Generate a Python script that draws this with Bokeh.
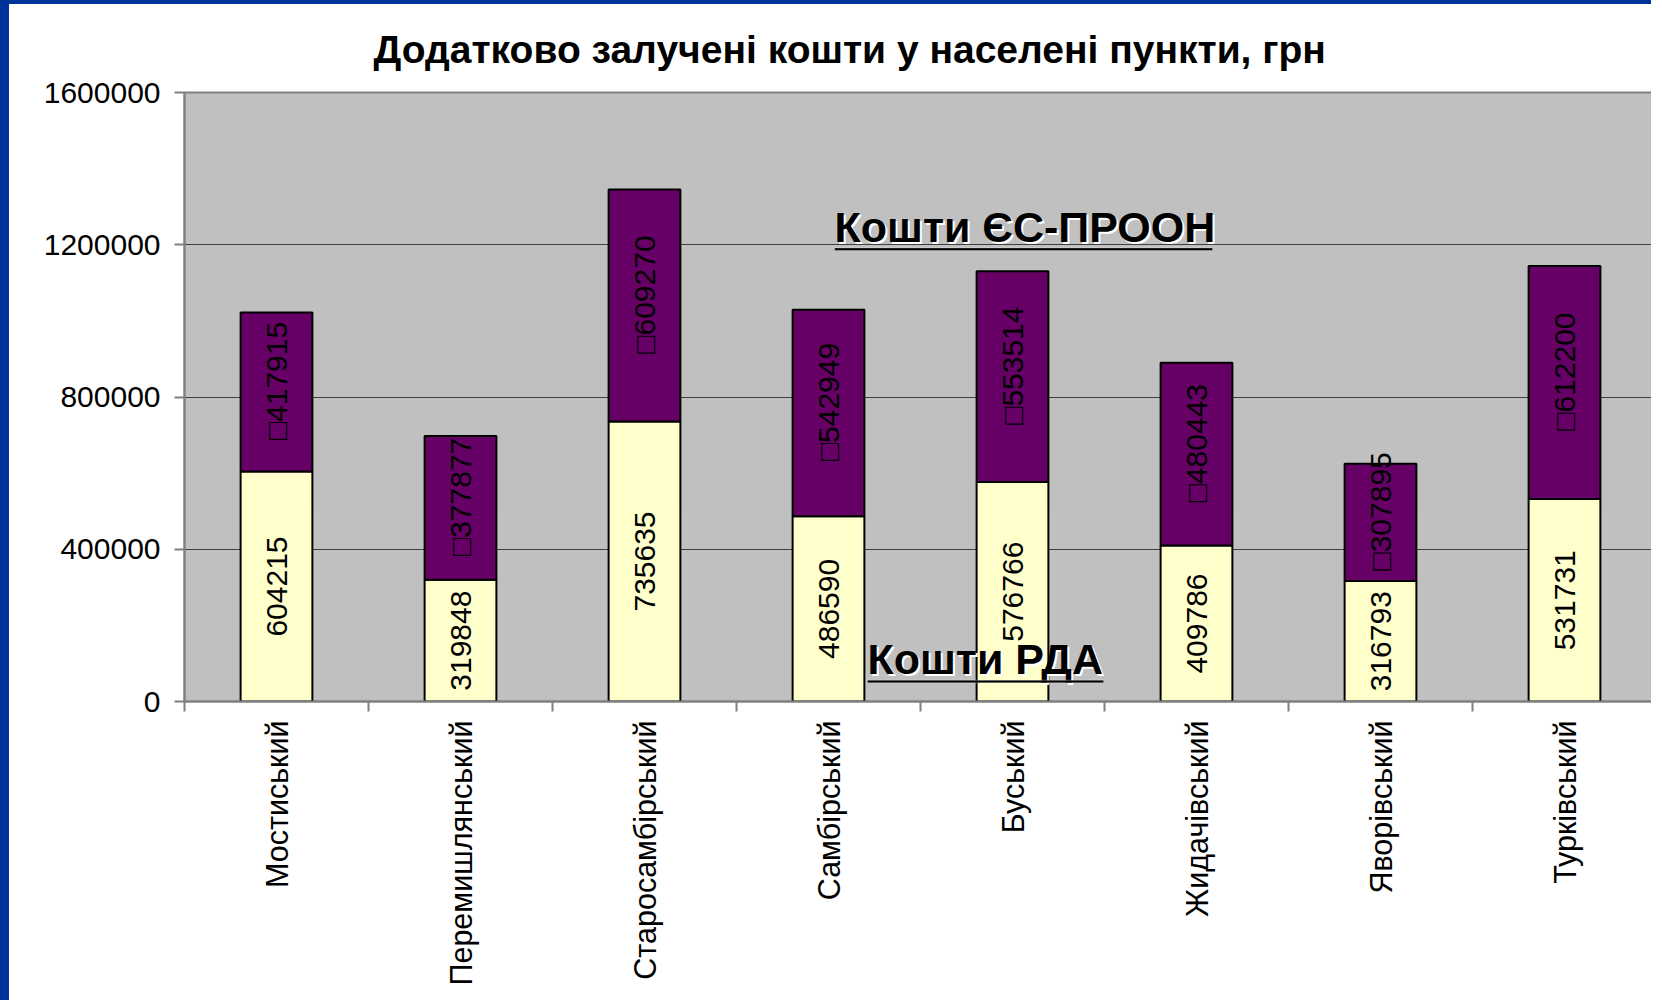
import math
from bokeh.plotting import figure
from bokeh.models import (ColumnDataSource, FixedTicker, LinearAxis, Range1d, Label,
                          BasicTickFormatter, BoxAnnotation)
from bokeh.core.properties import value
from bokeh.embed import file_html
from bokeh.resources import INLINE

chart_title = "Додатково залучені кошти у населені пункти, грн"
categories = ["Мостиський", "Перемишлянський", "Старосамбірський", "Самбірський",
              "Буський", "Жидачівський", "Яворівський", "Турківський"]
rda = [604215, 319848, 735635, 486590, 576766, 409786, 316793, 531731]
eu_undp = [417915, 377877, 609270, 542949, 553514, 480443, 307895, 612200]
y_ticks = [0, 400000, 800000, 1200000, 1600000]
series_names = ["Кошти РДА", "Кошти ЄС-ПРООН"]

FONT = "Liberation Sans"
BL, BT = 9, 4          # slide frame strip widths (left, top)
W, H = 1660 - BL, 1004 - BT
n = len(categories)
xs = [i + 0.5 for i in range(n)]
tops = [a + b for a, b in zip(rda, eu_undp)]
src = ColumnDataSource(dict(
    x=xs, rda=rda, eu=eu_undp, top=tops,
    rda_mid=[a / 2 for a in rda],
    eu_mid=[a + b / 2 for a, b in zip(rda, eu_undp)],
    rda_lbl=[str(v) for v in rda],
    eu_lbl=["\u25a1" + str(v) for v in eu_undp],
))

p = figure(width=W, height=H, output_backend="svg", toolbar_location=None,
           x_range=Range1d(0, n), y_range=Range1d(0, y_ticks[-1]),
           x_axis_type=None, min_border_left=184 - BL, min_border_right=1660 - 1656,
           min_border_top=91 - BT, min_border_bottom=1004 - 701)
p.styles = {"border-left": f"{BL}px solid #003399",
            "border-top": f"{BT}px solid #003399"}
p.background_fill_color = "#C0C0C0"
p.border_fill_color = "white"
p.outline_line_color = "#808080"
p.outline_line_width = 2

p.title.text = chart_title
p.title.text_font = FONT
p.title.text_font_size = "39px"
p.title.text_font_style = "bold"
p.title.text_color = "black"
p.title.align = "left"
p.title.offset = 189
p.title.standoff = 43

# y axis
ya = p.yaxis[0]
ya.ticker = FixedTicker(ticks=y_ticks)
ya.formatter = BasicTickFormatter(use_scientific=False)
ya.major_label_text_font = FONT
ya.major_label_text_font_size = "30px"
ya.major_label_text_color = "black"
ya.major_label_standoff = 14
ya.major_tick_in = 0
ya.major_tick_out = 10
ya.minor_tick_line_color = None
ya.axis_line_color = "#808080"
ya.axis_line_width = 2
ya.major_tick_line_color = "#808080"
ya.major_tick_line_width = 2

p.xgrid.grid_line_color = None
p.ygrid.ticker = FixedTicker(ticks=y_ticks)
p.ygrid.grid_line_color = "#404040"
p.ygrid.grid_line_width = 1

xa = LinearAxis(
    ticker=FixedTicker(ticks=xs, minor_ticks=list(range(n + 1))),
    major_label_overrides={x: c for x, c in zip(xs, categories)},
    major_tick_line_color=None, major_tick_out=10, major_tick_in=0,
    minor_tick_line_color="#808080", minor_tick_out=10, minor_tick_in=0,
    minor_tick_line_width=2,
    axis_line_color="#808080", axis_line_width=2,
    major_label_orientation=math.pi / 2,
    major_label_standoff=9,
    major_label_text_font=FONT, major_label_text_font_size="30.5px",
    major_label_text_color="black",
)
p.add_layout(xa, "below")

bw = 0.39
p.vbar(x="x", bottom=0, top="rda", width=bw, fill_color="#FFFFCC",
       line_color="black", line_width=2, source=src)
p.vbar(x="x", bottom="rda", top="top", width=bw, fill_color="#660066",
       line_color="black", line_width=2, source=src)

for col_y, col_t, yo in (("rda_mid", "rda_lbl", 0), ("eu_mid", "eu_lbl", -11)):
    p.text(x="x", y=col_y, text=col_t, angle=math.pi / 2, text_align="center",
           text_baseline="middle", text_font=value(FONT), text_font_size="30px",
           text_color="black", y_offset=yo, source=src)

# series name labels (legend), underlined with white shadow
legend_pos = [(3.712, 111480, 3.712, 4.995, 52460),
              (3.533, 1245900, 3.533, 5.587, 1188200)]
for name, (lx, ly, ux0, ux1, uy) in zip(series_names, legend_pos):
    for dx, col in ((2, "white"), (0, "black")):
        p.add_layout(Label(x=lx, y=ly, text=name, x_offset=dx, y_offset=-dx,
                           text_font=FONT, text_font_size="43px",
                           text_font_style="bold", text_color=col,
                           text_baseline="middle", text_align="left"))
    p.add_layout(BoxAnnotation(left=ux0, right=ux1, bottom=uy - 3500, top=uy + 3500,
                               fill_color="black", fill_alpha=1.0,
                               line_color="white", line_width=1, level="overlay"))

open("out.html", "w").write(file_html(p, INLINE))
